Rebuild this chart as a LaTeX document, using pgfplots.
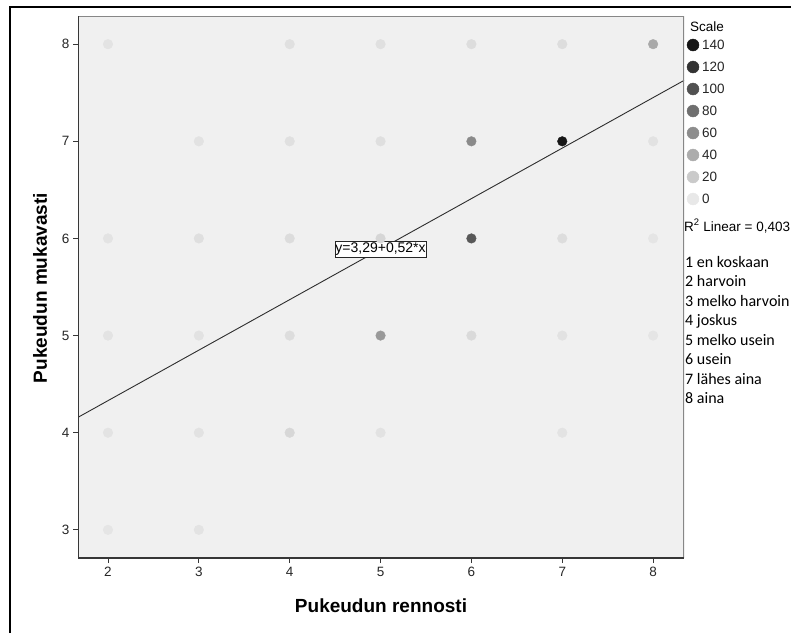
\documentclass[border=0pt]{standalone}
\usepackage{fontspec}
\setmainfont{Liberation Sans}
\newfontfamily\calibri{Carlito}
\usepackage{pgfplots}
\usepackage{pgfplotstable}
\pgfplotsset{compat=1.18}

\definecolor{plotbg}{RGB}{240,240,240}
\definecolor{axisdark}{RGB}{55,55,55}
\definecolor{axislight}{RGB}{135,135,135}
\definecolor{fitline}{RGB}{45,45,45}

\pgfplotsset{colormap={spss}{rgb255=(232,232,232) rgb255=(22,22,22)}}

% frequency of each (rennosti, mukavasti) answer pair
\pgfplotstableread{
x y n
2 8 3
4 8 5
5 8 5
6 8 7
7 8 7
8 8 42
3 7 4
4 7 5
5 7 6
6 7 62
7 7 140
8 7 4
2 6 3
3 6 6
4 6 8
5 6 12
6 6 95
7 6 7
8 6 2
2 5 3
3 5 4
4 5 7
5 5 52
6 5 9
7 5 4
8 5 2
2 4 3
3 4 4
4 4 11
5 4 4
7 4 3
2 3 2
3 3 3
}\freqtable

% shade key
\pgfplotstableread{
x v
0 140
0 120
0 100
0 80
0 60
0 40
0 20
0 0
}\scaletable

\begin{document}
\begin{tikzpicture}[x=1pt,y=1pt]
\path[use as bounding box] (0,0) rectangle (791,-633);
\draw[line width=1.8pt] (10,-633) -- (10,-7) -- (791,-7);

\begin{axis}[
  at={(78pt,-16pt)}, anchor=north west,
  scale only axis, width=606pt, height=542pt,
  xmin=1.67, xmax=8.34, ymin=2.71, ymax=8.29,
  xtick={2,...,8}, ytick={3,...,8},
  tick align=outside, tick pos=left,
  major tick length=5pt,
  tick style={axisdark, line width=0.9pt},
  axis line style={draw=none},
  axis background/.style={fill=plotbg},
  /pgf/number format/assume math mode=true,
  ticklabel style={font=\fontsize{13.5}{15}\selectfont, text=black!85},
  xticklabel style={yshift=-1pt},
  colormap name=spss,
  point meta min=0, point meta max=140,
]
\addplot[scatter, only marks, mark=*, mark size=4.8pt,
  scatter/use mapped color={draw=mapped color, fill=mapped color},
  point meta=\thisrow{n}] table[x=x, y=y] {\freqtable};
% linear fit y = 3.29 + 0.52x across the axis range
\addplot[fitline, line width=0.9pt] coordinates {(1.67,4.1584) (8.34,7.6268)};
\draw[axislight, line width=1.1pt] (rel axis cs:0,1) -- (rel axis cs:1,1) -- (rel axis cs:1,0);
\draw[axisdark, line width=1.1pt] (rel axis cs:0,1) -- (rel axis cs:0,0) -- (rel axis cs:1,0);
\node[draw=black!85, fill=white, line width=0.8pt, inner xsep=0.5pt, inner ysep=1.6pt,
  font=\fontsize{14}{16}\selectfont] at (axis cs:5.0,5.89) {y=3,29+0,52*x};
\end{axis}

% axis titles
\node[font=\bfseries\fontsize{19}{22}\selectfont] at (381,-606) {Pukeudun rennosti};
\node[font=\bfseries\fontsize{19}{22}\selectfont, rotate=90] at (40,-288) {Pukeudun mukavasti};

% shade key
\node[anchor=west, inner sep=0, font=\fontsize{13.5}{15}\selectfont] at (690,-27) {Scale};
\begin{axis}[
  at={(686pt,-199pt)}, anchor=south west,
  scale only axis, width=14pt, height=154pt,
  hide axis, clip=false,
  xmin=-1, xmax=1, ymin=0, ymax=140,
  colormap name=spss,
  point meta min=0, point meta max=140,
  /pgf/number format/assume math mode=true,
]
\addplot[scatter, only marks, mark=*, mark size=6pt,
  scatter/use mapped color={draw=mapped color, fill=mapped color},
  point meta=\thisrow{v}] table[x=x, y=v] {\scaletable};
\addplot[only marks, mark=none, point meta=\thisrow{v},
  nodes near coords,
  nodes near coords style={anchor=west, xshift=9pt, inner sep=0, text=black!85,
    font=\fontsize{13.5}{15}\selectfont}] table[x=x, y=v] {\scaletable};
\end{axis}

\node[anchor=west, inner sep=0, font=\fontsize{13.5}{15}\selectfont] at (684,-226) {R\textsuperscript{2} Linear = 0,403};

\foreach \t [count=\i from 0] in {1 en koskaan, 2 harvoin, 3 melko harvoin, 4 joskus,
    5 melko usein, 6 usein, 7 lähes aina, 8 aina}
  \node[anchor=base west, inner sep=0, font=\calibri\fontsize{16}{19}\selectfont] at (685,-267-19.5*\i) {\t};
\end{tikzpicture}
\end{document}
